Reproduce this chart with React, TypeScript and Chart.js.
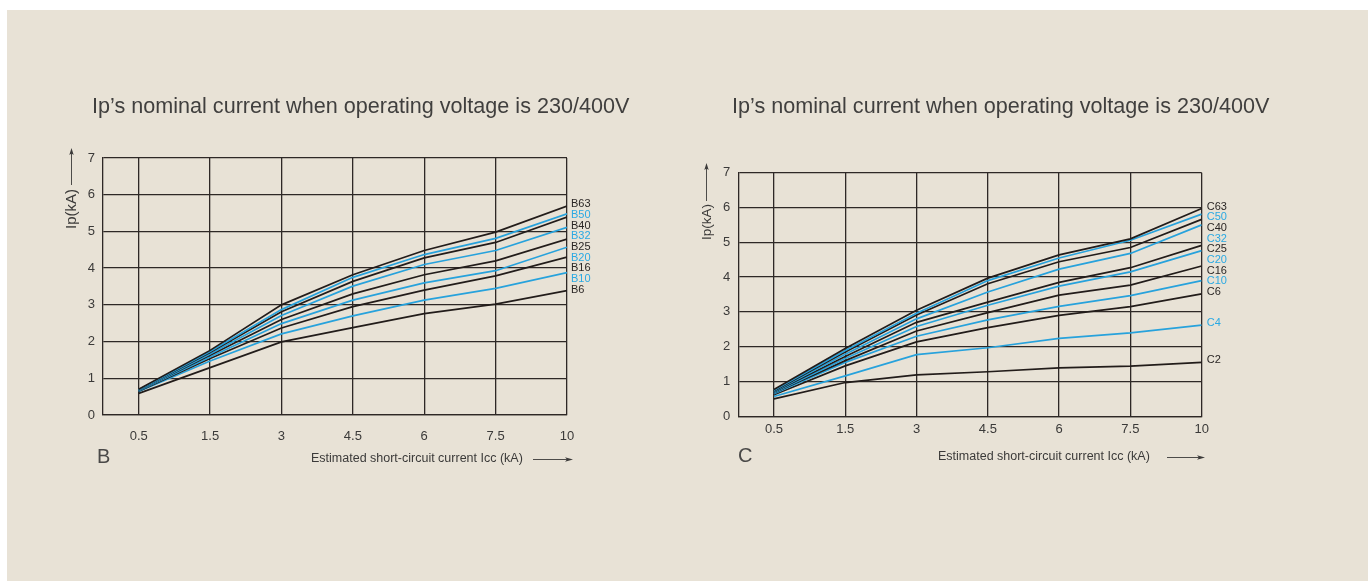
import React, { useEffect, useRef } from "react";
import { Chart, registerables } from "chart.js";

Chart.register(...registerables);
Chart.defaults.font.family = '"Liberation Sans", Arial, Helvetica, sans-serif';

// ---------- data ----------
const xLabels = ["0.5", "1.5", "3", "4.5", "6", "7.5", "10"];
const yMin = 0;
const yMax = 7;

const bNames = ["B63", "B50", "B40", "B32", "B25", "B20", "B16", "B10", "B6"];
const b63 = [0.7, 1.76, 3.0, 3.82, 4.48, 4.98, 5.69];
const b50 = [0.69, 1.73, 2.87, 3.75, 4.37, 4.81, 5.48];
const b40 = [0.68, 1.7, 2.81, 3.64, 4.28, 4.7, 5.39];
const b32 = [0.67, 1.66, 2.71, 3.51, 4.1, 4.48, 5.11];
const b25 = [0.67, 1.63, 2.6, 3.3, 3.82, 4.2, 4.79];
const b20 = [0.66, 1.58, 2.49, 3.13, 3.6, 3.93, 4.57];
const b16 = [0.65, 1.54, 2.37, 2.95, 3.4, 3.79, 4.3];
const b10 = [0.64, 1.47, 2.21, 2.7, 3.13, 3.45, 3.88];
const b6 = [0.59, 1.29, 1.99, 2.38, 2.76, 3.02, 3.39];
const bValues = [b63, b50, b40, b32, b25, b20, b16, b10, b6];

const cNames = ["C63", "C50", "C40", "C32", "C25", "C20", "C16", "C10", "C6", "C4", "C2"];
const c63 = [0.77, 1.95, 3.05, 3.97, 4.64, 5.1, 5.97];
const c50 = [0.75, 1.89, 2.96, 3.9, 4.55, 5.06, 5.81];
const c40 = [0.73, 1.85, 2.91, 3.81, 4.44, 4.85, 5.66];
const c32 = [0.71, 1.78, 2.8, 3.57, 4.23, 4.68, 5.5];
const c25 = [0.7, 1.72, 2.7, 3.28, 3.85, 4.27, 4.91];
const c20 = [0.68, 1.66, 2.58, 3.19, 3.74, 4.15, 4.76];
const c16 = [0.67, 1.6, 2.45, 2.98, 3.48, 3.77, 4.32];
const c10 = [0.65, 1.55, 2.3, 2.77, 3.16, 3.47, 3.9];
const c6 = [0.62, 1.45, 2.14, 2.55, 2.9, 3.15, 3.52];
const c4 = [0.57, 1.16, 1.77, 1.97, 2.24, 2.4, 2.62];
const c2 = [0.5, 0.97, 1.19, 1.28, 1.39, 1.44, 1.55];
const cValues = [c63, c50, c40, c32, c25, c20, c16, c10, c6, c4, c2];

const blueNames = ["B50", "B32", "B20", "B10", "C50", "C32", "C20", "C10", "C4"];

const titleText = "Ip’s nominal current when operating voltage is 230/400V";
const xTitleText = "Estimated short-circuit current Icc (kA)";
const yTitleText = "Ip(kA)";

// ---------- styles ----------
const BLACK = "#221c1a";
const BLUE = "#27a2dc";
const BLUE_TEXT = "#2aa9e3";
const GRID = "#2e2826";
const TEXT = "#3b3a39";
const BEIGE = "#e8e2d6";
const FONT = '"Liberation Sans", Arial, Helvetica, sans-serif';

function drawArrowHead(ctx: CanvasRenderingContext2D, x: number, y: number, dir: "up" | "right") {
  ctx.beginPath();
  if (dir === "up") {
    ctx.moveTo(x, y);
    ctx.lineTo(x - 2.2, y + 7);
    ctx.lineTo(x, y + 5.5);
    ctx.lineTo(x + 2.2, y + 7);
  } else {
    ctx.moveTo(x, y);
    ctx.lineTo(x - 8, y - 2.2);
    ctx.lineTo(x - 6, y);
    ctx.lineTo(x - 8, y + 2.2);
  }
  ctx.closePath();
  ctx.fill();
}

const annotPlugin = {
  id: "annot",
  afterDraw(chart: any) {
    const o = chart.options.plugins.annot;
    if (!o) return;
    const ctx: CanvasRenderingContext2D = chart.ctx;
    const area = chart.chartArea;
    ctx.save();
    // title
    ctx.fillStyle = "#403f3e";
    ctx.textAlign = "left";
    ctx.textBaseline = "middle";
    ctx.font = `${o.titleSize}px ${FONT}`;
    ctx.fillText(titleText, o.titleX, o.titleY);
    // panel letter
    ctx.fillStyle = "#4a4948";
    ctx.font = `${o.letterSize}px ${FONT}`;
    ctx.fillText(o.letter, o.letterX, o.letterY);
    // x title + arrow
    ctx.fillStyle = TEXT;
    ctx.font = `${o.xTitleSize}px ${FONT}`;
    ctx.fillText(xTitleText, o.xTitleX, o.xTitleY);
    ctx.strokeStyle = TEXT;
    ctx.lineWidth = 0.9;
    ctx.beginPath();
    ctx.moveTo(o.xArrow[0], o.xTitleY + 0.5);
    ctx.lineTo(o.xArrow[1] - 5, o.xTitleY + 0.5);
    ctx.stroke();
    drawArrowHead(ctx, o.xArrow[1], o.xTitleY + 0.5, "right");
    // y title + arrow
    ctx.save();
    ctx.translate(o.yTitleX, o.yTitleY);
    ctx.rotate(-Math.PI / 2);
    ctx.textAlign = "center";
    ctx.font = `${o.yTitleSize}px ${FONT}`;
    ctx.fillText(yTitleText, 0, 0);
    ctx.restore();
    ctx.beginPath();
    ctx.moveTo(o.yTitleX - 0.5, o.yArrow[0]);
    ctx.lineTo(o.yTitleX - 0.5, o.yArrow[1] + 5);
    ctx.stroke();
    drawArrowHead(ctx, o.yTitleX - 0.5, o.yArrow[1], "up");
    // series labels at line ends
    const ys = chart.scales.y;
    ctx.font = `${o.labelSize}px ${FONT}`;
    ctx.textAlign = "left";
    let prev = -Infinity;
    chart.data.datasets.forEach((ds: any) => {
      const last = ds.data[ds.data.length - 1];
      let y = ys.getPixelForValue(last.y) + o.labelShift;
      y = Math.max(y, prev + o.labelGap);
      prev = y;
      ctx.fillStyle = ds.labelColor;
      ctx.fillText(ds.label, area.right + o.labelDx, y);
    });
    ctx.restore();
  },
};

function makeConfig(names: string[], values: number[][], opts: any) {
  const datasets = names.map((name, i) => {
    const blue = blueNames.includes(name);
    return {
      label: name,
      data: values[i].map((v, j) => ({ x: j, y: v })),
      borderColor: blue ? BLUE : BLACK,
      labelColor: blue ? BLUE_TEXT : "#2a2625",
      borderWidth: 1.7,
      pointRadius: 0,
      tension: 0,
      fill: false,
    };
  });
  return {
    type: "line",
    data: { datasets },
    plugins: [annotPlugin],
    options: {
      responsive: false,
      animation: false,
      events: [],
      layout: { padding: opts.padding },
      plugins: {
        legend: { display: false },
        tooltip: { enabled: false },
        title: { display: false },
        annot: opts.annot,
      },
      scales: {
        x: {
          type: "linear",
          min: -0.5,
          max: xLabels.length - 1,
          afterBuildTicks: (scale: any) => {
            scale.ticks = xLabels.map((_, i) => ({ value: i }));
          },
          afterFit: (scale: any) => {
            scale.height = 30;
          },
          ticks: {
            autoSkip: false,
            maxRotation: 0,
            padding: opts.xTickPad,
            color: TEXT,
            font: { size: 13 },
            callback: (v: number) => xLabels[Math.round(v)],
          },
          grid: { color: GRID, lineWidth: 1.3, drawTicks: false },
          border: { display: true, color: GRID, width: 1.3 },
        },
        y: {
          min: yMin,
          max: yMax,
          afterFit: (scale: any) => {
            scale.width = 30;
          },
          ticks: {
            stepSize: 1,
            padding: 8,
            color: TEXT,
            font: { size: 13 },
          },
          grid: { color: GRID, lineWidth: 1.3, drawTicks: false },
          border: { display: true, color: GRID, width: 1.3 },
        },
      },
    },
  };
}

function ChartBox({ config, left }: { config: any; left: number }) {
  const ref = useRef<HTMLCanvasElement | null>(null);
  useEffect(() => {
    if (!ref.current) return;
    const chart = new Chart(ref.current, config);
    return () => chart.destroy();
  }, []);
  return (
    <canvas
      ref={ref}
      width={684}
      height={581}
      style={{ position: "absolute", left, top: 0, width: 684, height: 581 }}
    />
  );
}

const leftConfig = makeConfig(bNames, bValues, {
  padding: { left: 73, top: 158, right: 117, bottom: 136 },
  xTickPad: 14,
  annot: {
    titleX: 92,
    titleY: 107,
    titleSize: 21.6,
    letter: "B",
    letterX: 97,
    letterY: 457,
    letterSize: 20,
    xTitleX: 311,
    xTitleY: 459,
    xTitleSize: 12.5,
    xArrow: [533, 573],
    yTitleX: 72,
    yTitleY: 209,
    yTitleSize: 15,
    yArrow: [185, 148],
    labelSize: 11,
    labelShift: -2,
    labelGap: 10.7,
    labelDx: 4,
  },
});

const rightConfig = makeConfig(cNames, cValues, {
  padding: { left: 24.3, top: 172.7, right: 166.3, bottom: 134.7 },
  xTickPad: 5,
  annot: {
    titleX: 732 - 684,
    titleY: 107,
    titleSize: 21.6,
    letter: "C",
    letterX: 54,
    letterY: 456,
    letterSize: 20,
    xTitleX: 254,
    xTitleY: 457,
    xTitleSize: 12.5,
    xArrow: [483, 521],
    yTitleX: 23,
    yTitleY: 222,
    yTitleSize: 13.5,
    yArrow: [201, 163],
    labelSize: 11,
    labelShift: -2,
    labelGap: 10.7,
    labelDx: 5,
  },
});

export default function App() {
  return (
    <div
      style={{
        position: "fixed",
        left: 0,
        top: 0,
        width: 1368,
        height: 581,
        background: "#ffffff",
        overflow: "hidden",
      }}
    >
      <div
        style={{
          position: "absolute",
          left: 7,
          top: 10,
          right: 0,
          bottom: 0,
          background: BEIGE,
        }}
      />
      <ChartBox config={leftConfig} left={0} />
      <ChartBox config={rightConfig} left={684} />
    </div>
  );
}
